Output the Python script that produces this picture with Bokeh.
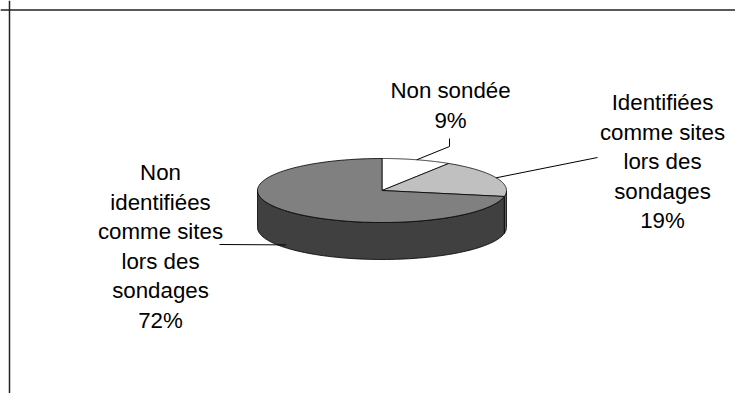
import numpy as np
from bokeh.plotting import figure
from bokeh.models import Range1d, Span
from bokeh.core.properties import value
from bokeh.embed import file_html
from bokeh.resources import INLINE

# ---- data ----
categories = ["Non sondée", "Identifiées comme sites lors des sondages",
              "Non identifiées comme sites lors des sondages"]
shares = [9, 19, 72]
label_texts = ["Non sondée\n9%",
               "Identifiées\ncomme sites\nlors des\nsondages\n19%",
               "Non\nidentifiées\ncomme sites\nlors des\nsondages\n72%"]
top_colors = ["#FFFFFF", "#C0C0C0", "#808080"]
side_colors = ["#B0B0B0", "#606060", "#404040"]

# ---- layout ----
W, H = 735, 393
cx, cy, rx, ry, depth = 381.5, 190.0, 124.5, 32.0, 37.0
FONT = "Liberation Sans"
FS = 22.3
LH = 29.6
label_anchor = [(450, 90), (662, 102), (160, 172)]       # centre x, first baseline
label_line_end = [[(449, 138), (449, 146)], [(597, 157)], [(219, 244)]]

p = figure(width=W, height=H, output_backend="svg", toolbar_location=None,
           x_range=Range1d(0, W), y_range=Range1d(H, 0),
           min_border=0, outline_line_color=None)
p.axis.visible = False
p.grid.visible = False
p.background_fill_color = "white"
p.border_fill_color = "white"

def pt(t):
    return cx + rx * np.sin(t), cy - ry * np.cos(t)

total = float(sum(shares))
bounds = np.concatenate([[0], np.cumsum(shares)]) / total * 2 * np.pi

# sides (front half: pi/2 .. 3pi/2)
sx, sy, sc = [], [], []
for i in range(len(shares)):
    a0 = max(bounds[i], np.pi / 2)
    a1 = min(bounds[i + 1], 3 * np.pi / 2)
    if a1 <= a0:
        continue
    t = np.linspace(a0, a1, 80)
    x, y = pt(t)
    xs = list(x) + list(x[::-1])
    ys = list(y) + list((y + depth)[::-1])
    sx.append(xs); sy.append(ys); sc.append(side_colors[i])
p.patches(sx, sy, fill_color=sc, line_color="black", line_width=0.8)

# tops
tx, ty = [], []
for i in range(len(shares)):
    t = np.linspace(bounds[i], bounds[i + 1], 120)
    x, y = pt(t)
    tx.append([cx] + list(x)); ty.append([cy] + list(y))
p.patches(tx, ty, fill_color=top_colors, line_color="black", line_width=0.8)

# leader lines
lx, ly = [], []
for i in range(len(shares)):
    mid = (bounds[i] + bounds[i + 1]) / 2
    x0, y0 = pt(mid)
    if np.pi / 2 < mid < 3 * np.pi / 2:
        y0 = y0 + depth - 3
    pts = label_line_end[i]
    xs = [q[0] for q in pts] + [x0]
    ys = [q[1] for q in pts] + [y0]
    lx.append(xs); ly.append(ys)
p.multi_line(lx, ly, line_color="black", line_width=1)

# labels
txt_x, txt_y, txt = [], [], []
for (ax, ay), s in zip(label_anchor, label_texts):
    for k, line in enumerate(s.split("\n")):
        txt_x.append(ax); txt_y.append(ay + k * LH); txt.append(line)
p.text(txt_x, txt_y, text=txt, text_font=value(FONT), text_font_size=f"{FS}px",
       text_align="center", text_baseline="alphabetic", text_color="black")

# frame edges (top and left visible)
p.add_layout(Span(location=9.5, dimension="width", line_color="#222222", line_width=1.5))
p.add_layout(Span(location=9.0, dimension="height", line_color="#222222", line_width=1.5))

open("out.html", "w").write(file_html(p, INLINE))
